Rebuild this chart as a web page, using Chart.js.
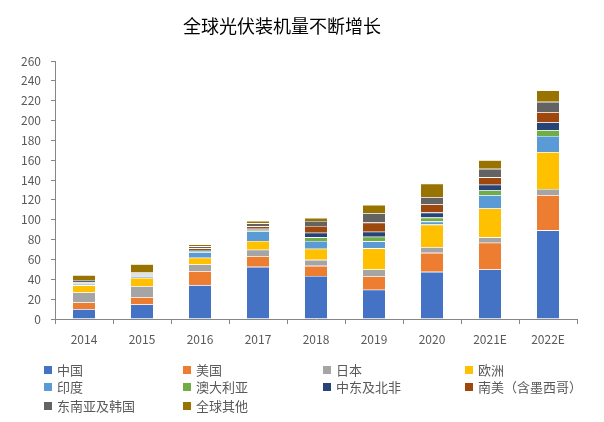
<!DOCTYPE html>
<html>
<head>
<meta charset="utf-8">
<script src="https://cdn.jsdelivr.net/npm/chart.js@4"></script>
<style>
  body { margin: 0; background: #fff; }
  #wrap { position: relative; width: 604px; height: 422px; }
  #title { position: absolute; left: 0; width: 564px; top: 12px; text-align: center;
           font: 18px "Noto Sans CJK SC", sans-serif; color: #000; }
  #legend { position: absolute; left: 40px; top: 360px; width: 560px;
            font: 13px "Noto Sans CJK SC", sans-serif; color: #595959; }
  .item { position: absolute; white-space: nowrap; }
  .box { display: inline-block; width: 8px; height: 8px; margin-right: 5px; vertical-align: 1px; }
</style>
</head>
<body>
<div id="wrap">
  <canvas id="myChart" width="604" height="422"></canvas>
  <div id="title">全球光伏装机量不断增长</div>
  <div id="legend"></div>
</div>
<script>
const years = ['2014', '2015', '2016', '2017', '2018', '2019', '2020', '2021E', '2022E'];
const seriesNames = ['中国', '美国', '日本', '欧洲', '印度', '澳大利亚', '中东及北非', '南美（含墨西哥）', '东南亚及韩国', '全球其他'];

const china        = [10.0, 14.7, 34.0, 52.6, 43.4, 29.6, 47.5, 49.9, 89.4];
const usa          = [6.7, 7.3, 14.2, 10.8, 10.2, 13.5, 19.2, 27.0, 35.5];
const japan        = [10.0, 11.0, 6.8, 6.4, 6.0, 6.8, 5.8, 5.4, 6.1];
const europe       = [7.2, 8.5, 6.7, 8.8, 11.2, 21.3, 22.7, 29.1, 37.2];
const india        = [1.5, 1.6, 5.7, 10.0, 7.8, 7.1, 3.0, 13.5, 16.2];
const australia    = [0.6, 0.9, 1.2, 1.3, 3.7, 4.7, 4.0, 4.7, 5.8];
const mena         = [0.5, 0.8, 1.0, 1.0, 4.7, 5.0, 5.1, 5.8, 7.8];
const southAmerica = [0.8, 1.0, 1.6, 2.5, 6.8, 9.2, 8.1, 7.4, 10.4];
const seaKorea     = [2.0, 1.5, 2.0, 3.0, 5.0, 9.4, 7.5, 8.5, 10.5];
const others       = [5.0, 8.0, 2.0, 2.5, 3.0, 8.5, 13.5, 8.7, 11.5];

const colors = ['#4472C4', '#ED7D31', '#A5A5A5', '#FFC000', '#5B9BD5', '#70AD47', '#264478', '#9E480E', '#636363', '#997300'];
const allSeries = [china, usa, japan, europe, india, australia, mena, southAmerica, seaKorea, others];

const datasets = allSeries.map((vals, i) => ({
    label: seriesNames[i],
    data: vals,
    backgroundColor: colors[i],
    borderColor: '#ffffff',
    borderWidth: 0.6,
    categoryPercentage: 1,
    barPercentage: 0.4
}));

const axisColor = '#868686';
const tickFont = { family: '"Noto Sans CJK SC", sans-serif', size: 12 };

new Chart('myChart', {
    type: 'bar',
    data: { labels: years, datasets: datasets },
    options: {
        responsive: false,
        animation: false,
        layout: { padding: { top: 61, left: 0, right: 27, bottom: 73 } },
        plugins: {
            legend: { display: false },
            title: { display: false },
            tooltip: { enabled: false }
        },
        scales: {
            x: {
                stacked: true,
                afterFit: s => { s.height = 30; },
                border: { color: axisColor },
                grid: { drawOnChartArea: false, color: axisColor, tickLength: 5 },
                ticks: { color: '#595959', font: tickFont, padding: 8 }
            },
            y: {
                stacked: true,
                min: 0,
                max: 260,
                afterFit: s => { s.width = 55; },
                border: { color: axisColor },
                grid: { drawOnChartArea: false, color: axisColor, tickLength: 4 },
                ticks: { stepSize: 20, color: '#595959', font: tickFont, padding: 10 }
            }
        }
    }
});

// legend laid out like the original 4-column grid
const colX = [4, 143, 283, 425];
const rowY = [0, 17, 36];
const legend = document.getElementById('legend');
seriesNames.forEach((name, i) => {
    const el = document.createElement('div');
    el.className = 'item';
    el.style.left = colX[i % 4] + 'px';
    el.style.top = rowY[Math.floor(i / 4)] + 'px';
    el.innerHTML = '<span class="box" style="background:' + colors[i] + '"></span>' + name;
    legend.appendChild(el);
});
</script>
</body>
</html>
